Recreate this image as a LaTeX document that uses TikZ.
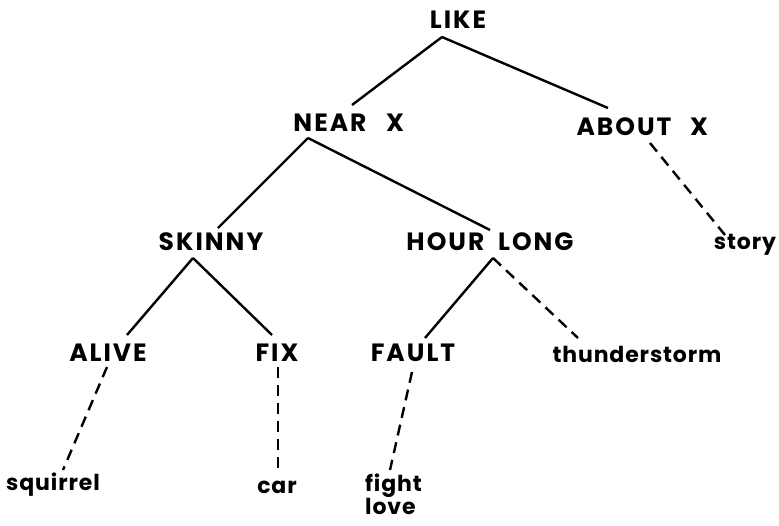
\documentclass[tikz,border=0pt]{standalone}
\usepackage{fontspec}
\setmainfont{Poppins}
\newfontfamily\capsfont[LetterSpace=8]{Poppins}
\newfontfamily\wordfont[LetterSpace=4]{Poppins}
\begin{document}
\begin{tikzpicture}[x=1pt,y=-1pt,
  lbl/.style={inner sep=0pt,font=\capsfont\fontsize{25}{27}\selectfont\bfseries},
  word/.style={inner sep=0pt,font=\wordfont\fontsize{22}{23}\selectfont\bfseries},
  link/.style={line width=2.4pt},
  dlink/.style={line width=2.4pt,dash pattern=on 11pt off 7pt}]
\useasboundingbox (0,0) rectangle (779,525);
% concept nodes
\node[lbl] (like) at (458,20) {LIKE};
\node[lbl] (near) at (330,123) {NEAR};
\node[lbl] (nearx) at (395,123) {X};
\node[lbl] (about) at (624,127) {ABOUT};
\node[lbl] (aboutx) at (699,127) {X};
\node[lbl] (skinny) at (211,242) {SKINNY};
\node[lbl] (hour) at (490,242) {HOUR\hspace{0.55em}LONG};
\node[lbl] (alive) at (108,353) {ALIVE};
\node[lbl] (fix) at (277,353) {FIX};
\node[lbl] (fault) at (413,353) {FAULT};
% word nodes
\node[word] (story) at (745,245) {story};
\node[word] (thunder) at (637,354) {thunderstorm};
\node[word] (squirrel) at (53,485) {squirrel};
\node[word] (car) at (277,487) {car};
\node[word,align=left,anchor=north west] (fight) at (365,474) {fight\\love};
% solid links
\draw[link] ([shift={(-16,17)}]like.center) -- ([shift={(22,-18)}]near.center);
\draw[link] ([shift={(-16,17)}]like.center) -- ([shift={(-16,-19)}]about.center);
\draw[link] ([shift={(-22,15)}]near.center) -- ([shift={(7,-14)}]skinny.center);
\draw[link] ([shift={(-22,15)}]near.center) -- ([shift={(0,-12)}]hour.center);
\draw[link] ([shift={(-18,16)}]skinny.center) -- ([shift={(19,-18)}]alive.center);
\draw[link] ([shift={(-18,16)}]skinny.center) -- ([shift={(-5,-18)}]fix.center);
\draw[link] ([shift={(3,16)}]hour.center) -- ([shift={(12,-15)}]fault.center);
% dashed links
\draw[dlink] ([shift={(26,16)}]about.center) -- ([shift={(-20,-10)}]story.center);
\draw[dlink] ([shift={(3,16)}]hour.center) -- ([shift={(-59,-16)}]thunder.center);
\draw[dlink] ([shift={(-1,14)}]alive.center) -- ([shift={(10,-15)}]squirrel.center);
\draw[dlink] ([shift={(1,14)}]fix.center) -- ([shift={(1,-17)}]car.center);
\draw[dlink] ([shift={(-1,19)}]fault.center) -- ([shift={(25,-4)}]fight.north west);
\end{tikzpicture}
\end{document}
